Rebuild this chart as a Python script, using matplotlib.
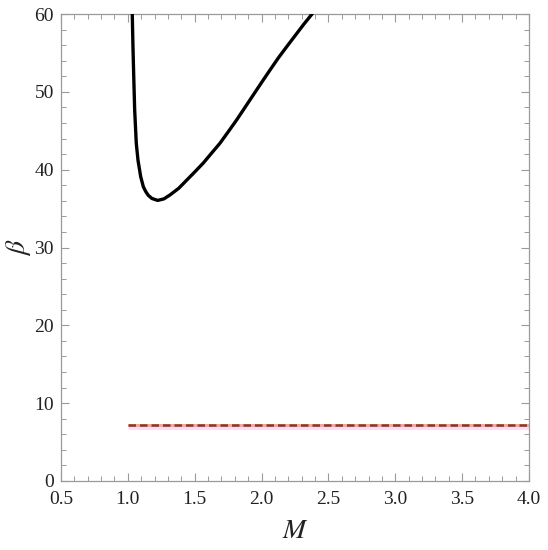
import matplotlib
matplotlib.use("Agg")
import matplotlib.pyplot as plt
from matplotlib.ticker import MultipleLocator, FormatStrFormatter

plt.rcParams['font.family'] = ['Liberation Serif', 'DejaVu Serif']
plt.rcParams['mathtext.fontset'] = 'stix'

# Black curve
M_curve = [1.033, 1.038, 1.044, 1.051, 1.063, 1.076, 1.096, 1.116, 1.135, 1.153,
           1.18, 1.223, 1.27, 1.315, 1.38, 1.44, 1.50, 1.564, 1.625, 1.689, 1.75,
           1.814, 1.876, 1.938, 2.0, 2.063, 2.125, 2.188, 2.25, 2.312, 2.382]
beta_curve = [60.0, 56.0, 52.0, 47.7, 43.4, 41.2, 39.1, 37.8, 37.15, 36.7,
              36.3, 36.05, 36.25, 36.75, 37.6, 38.65, 39.7, 40.85, 42.1, 43.4, 44.85,
              46.4, 48.0, 49.6, 51.2, 52.8, 54.35, 55.8, 57.2, 58.6, 60.1]

# Horizontal dashed line
M_line = [1.0, 4.0]
beta_line = [7.15, 7.15]
beta_band = [6.85, 6.85]

fig = plt.figure(figsize=(5.48, 5.5), dpi=100)
ax = fig.add_axes([0.1113, 0.1255, 0.854, 0.849])

ax.plot(M_line, beta_band, color='#ffdaf2', lw=2.2, solid_capstyle='butt', zorder=2)
ax.plot(M_line, beta_line, color='#f2a8a0', lw=2.2, solid_capstyle='butt', zorder=3)
ax.plot(M_line, beta_line, color='#8a3a1c', lw=1.8, ls=(0, (3.0, 1.6)), zorder=4)
ax.plot(M_curve, beta_curve, color='black', lw=2.4, zorder=5,
        solid_joinstyle='round', solid_capstyle='butt')

ax.set_xlim(0.5, 4.0)
ax.set_ylim(0, 60)
ax.xaxis.set_major_locator(MultipleLocator(0.5))
ax.xaxis.set_minor_locator(MultipleLocator(0.1))
ax.yaxis.set_major_locator(MultipleLocator(10))
ax.yaxis.set_minor_locator(MultipleLocator(2))
ax.xaxis.set_major_formatter(FormatStrFormatter('%.1f'))

for s in ax.spines.values():
    s.set_color('#9a9a9a')
    s.set_linewidth(0.9)
ax.tick_params(which='both', direction='in', top=True, right=True, color='#9a9a9a',
               labelsize=14, labelcolor='#222222')
ax.tick_params(axis='x', which='major', pad=7)
ax.tick_params(axis='y', which='major', pad=5)
ax.tick_params(which='major', length=6, width=0.8)
ax.tick_params(which='minor', length=3.5, width=0.7)

ax.set_xlabel('$M$', fontsize=20, labelpad=8, color='#222222')
ax.set_ylabel(r'$\beta$', fontsize=20, labelpad=1, rotation=90, color='#222222')

fig.savefig('out.png', dpi=100)
